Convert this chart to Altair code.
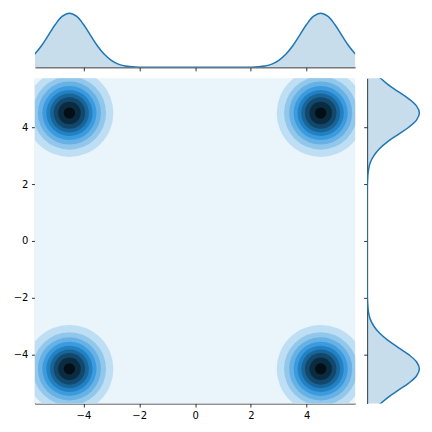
import colorsys
import altair as alt
import pandas as pd

# ---------------- data ----------------
centers_x = [-4.5, 4.5, -4.5, 4.5]
centers_y = [4.5, 4.5, -4.5, -4.5]
contour_levels = [1, 2, 3, 4, 5, 6, 7, 8, 9]
contour_radii = [1.56, 1.30, 1.12, 0.96, 0.82, 0.69, 0.56, 0.40, 0.20]

grid = [-5.75, -5.5, -5.25, -5.0, -4.75, -4.5, -4.25, -4.0, -3.75, -3.5, -3.25,
        -3.0, -2.75, -2.5, -2.25, -2.0, -1.75, -1.5, -1.25, -1.0, -0.75, -0.5,
        -0.25, 0.0, 0.25, 0.5, 0.75, 1.0, 1.25, 1.5, 1.75, 2.0, 2.25, 2.5, 2.75,
        3.0, 3.25, 3.5, 3.75, 4.0, 4.25, 4.5, 4.75, 5.0, 5.25, 5.5, 5.75]
x_density = [0.065, 0.108, 0.161, 0.215, 0.255, 0.270, 0.255, 0.215, 0.161, 0.108,
             0.065, 0.035, 0.016, 0.007, 0.003, 0.001, 0.000, 0.000, 0.000, 0.000,
             0.000, 0.000, 0.000, 0.000, 0.000, 0.000, 0.000, 0.000, 0.000, 0.000,
             0.000, 0.001, 0.003, 0.007, 0.016, 0.035, 0.065, 0.108, 0.161, 0.215,
             0.255, 0.270, 0.255, 0.215, 0.161, 0.108, 0.065]
y_density = [0.065, 0.108, 0.161, 0.215, 0.255, 0.270, 0.255, 0.215, 0.161, 0.108,
             0.065, 0.035, 0.016, 0.007, 0.003, 0.001, 0.000, 0.000, 0.000, 0.000,
             0.000, 0.000, 0.000, 0.000, 0.000, 0.000, 0.000, 0.000, 0.000, 0.000,
             0.000, 0.001, 0.003, 0.007, 0.016, 0.035, 0.065, 0.108, 0.161, 0.215,
             0.255, 0.270, 0.255, 0.215, 0.161, 0.108, 0.065]
ticks = [-4, -2, 0, 2, 4]

# ---------------- style ----------------
C0 = "#1f77b4"
r, g, b = 31 / 255, 119 / 255, 180 / 255
h, _l, s = colorsys.rgb_to_hls(r, g, b)
band_colors = []
for i in range(10):
    lt = 1 - (i + 0.5) / 10
    rr, gg, bb = colorsys.hls_to_rgb(h, lt, s)
    band_colors.append("#%02x%02x%02x" % (round(rr * 255), round(gg * 255), round(bb * 255)))

X_DOM = [-5.735, 5.735]
Y_DOM = [-5.72, 5.72]
W, H = 321, 326
TOP_H, RIGHT_W = 57, 55
D_MAX = 0.2835
ppu = (W / (X_DOM[1] - X_DOM[0]) + H / (Y_DOM[1] - Y_DOM[0])) / 2

xs = alt.Scale(domain=X_DOM, nice=False, zero=False)
ys = alt.Scale(domain=Y_DOM, nice=False, zero=False)
ds = alt.Scale(domain=[0, D_MAX], nice=False, zero=True)

axis_common = dict(values=ticks, grid=False, tickSize=3.5, tickWidth=0.8,
                   tickColor="black", domainColor="black", domainWidth=0.8,
                   labelColor="black", labelFont="DejaVu Sans", labelFontSize=10,
                   labelPadding=3.5, title=None)
x_axis = alt.Axis(orient="bottom", **axis_common)
y_axis = alt.Axis(orient="left", **axis_common)
top_axis = alt.Axis(orient="bottom", labels=False, **axis_common)
right_axis = alt.Axis(orient="left", labels=False, **axis_common)

# ---------------- main joint panel ----------------
bg_df = pd.DataFrame({"x": [X_DOM[0]], "x2": [X_DOM[1]], "y": [Y_DOM[0]], "y2": [Y_DOM[1]]})
bg = alt.Chart(bg_df).mark_rect(color=band_colors[0]).encode(
    x=alt.X("x:Q", scale=xs, axis=x_axis), x2="x2:Q",
    y=alt.Y("y:Q", scale=ys, axis=y_axis), y2="y2:Q",
)

rows = []
for cx, cy in zip(centers_x, centers_y):
    for lev, rad in zip(contour_levels, contour_radii):
        rows.append({"x": cx, "y": cy, "level": lev, "r2": rad * rad})
circ_df = pd.DataFrame(rows)

circ = alt.Chart(circ_df).mark_circle(opacity=1, clip=True).encode(
    x=alt.X("x:Q", scale=xs, axis=x_axis),
    y=alt.Y("y:Q", scale=ys, axis=y_axis),
    size=alt.Size("r2:Q", scale=alt.Scale(domain=[0, 4], range=[0, 4 * 4 * ppu * ppu], zero=True), legend=None),
    color=alt.Color("level:O", scale=alt.Scale(domain=contour_levels, range=band_colors[1:]), legend=None),
    order=alt.Order("level:Q", sort="ascending"),
)

main = alt.layer(bg, circ).properties(width=W, height=H)

# ---------------- marginal panels ----------------
top_df = pd.DataFrame({"v": grid, "d": x_density})
top_base = alt.Chart(top_df).encode(
    x=alt.X("v:Q", scale=xs, axis=top_axis),
    y=alt.Y("d:Q", scale=ds, axis=None),
)
top_area = top_base.mark_area(color=C0, fillOpacity=0.25, clip=True, interpolate="catmull-rom")
top_line = top_base.mark_line(color=C0, strokeWidth=1.5, clip=True, interpolate="catmull-rom")
top = alt.layer(top_area, top_line).properties(width=W, height=TOP_H)

right_df = pd.DataFrame({"v": grid, "d": y_density})
right_area = alt.Chart(right_df).mark_area(
    color=C0, fillOpacity=0.25, clip=True, orient="horizontal", interpolate="catmull-rom"
).encode(
    y=alt.Y("v:Q", scale=ys, axis=right_axis),
    x=alt.X("d:Q", scale=ds, axis=None, stack=None),
)
right_line = alt.Chart(right_df).mark_line(
    color=C0, strokeWidth=1.5, clip=True, interpolate="catmull-rom"
).encode(
    y=alt.Y("v:Q", scale=ys, axis=right_axis),
    x=alt.X("d:Q", scale=ds, axis=None),
    order=alt.Order("v:Q"),
)
right = alt.layer(right_area, right_line).properties(width=RIGHT_W, height=H)

row = alt.hconcat(main, right, spacing=12, bounds="flush").resolve_scale(x="independent", y="independent")
chart = alt.vconcat(top, row, spacing=11, bounds="flush").resolve_scale(
    x="independent", y="independent"
).properties(
    padding={"left": 5, "top": 2, "right": 2, "bottom": 2}
).configure_view(stroke=None)

chart.save("out.html", embed_options={"renderer": "svg", "actions": False})
